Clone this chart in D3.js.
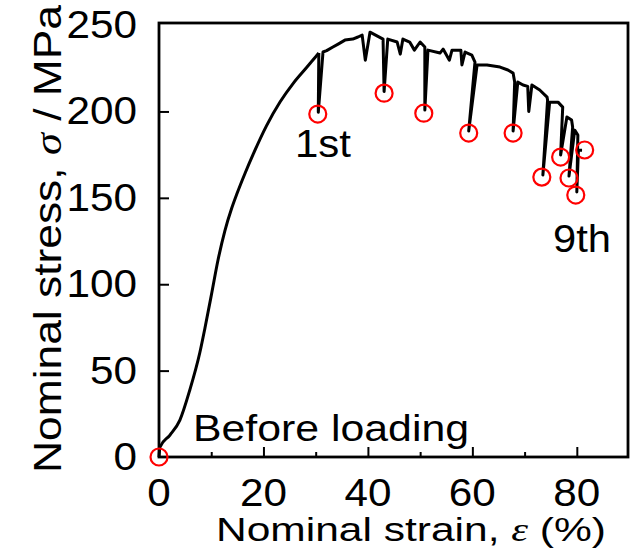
<!DOCTYPE html>
<html>
<head>
<meta charset="utf-8">
<script src="https://cdn.jsdelivr.net/npm/d3@7"></script>
<style>
  body { margin: 0; background: #fff; }
  text { font-family: "Liberation Sans", Arial, sans-serif; fill: #000; }
</style>
</head>
<body>
<svg id="my_chart" width="635" height="554"></svg>
<script>
// stress-strain curve
var strain = [0, 0.2, 2.1, 4.0, 5.9, 7.8, 8.8, 10.1, 11.3, 12.6, 13.9, 14.9, 16.5, 18.0, 20.6, 23.2, 25.7, 28.3, 30.2, 30.6,
  30.5, 31.4, 32.1, 33.3, 34.3, 35.6, 37.1, 38.1, 38.9, 39.5, 40.4, 42.9,
  43.1, 43.8, 45.6, 46.2, 46.7, 48.0, 48.9, 50.0, 50.9,
  50.9, 51.5, 53.8, 54.4, 55.6, 56.1, 57.8, 58.0, 58.6, 59.9, 60.5,
  59.3, 60.9, 62.8, 65.3, 66.8, 67.8, 68.1,
  67.8, 68.7, 69.7, 70.6, 70.8, 71.4, 72.9, 74.3, 74.4,
  73.5, 74.8, 76.4, 77.3,
  76.9, 78.1, 79.0, 79.2,
  78.5, 79.6, 80.2,
  80.0, 80.3, 81.0]
var stress = [0, 5.8, 12.7, 21.4, 38.8, 60.2, 74.7, 94.9, 114.0, 130.8, 143.8, 152.2, 164.4, 175.0, 191.8, 205.6, 216.3, 225.6, 232.4, 233.8,
  199.5, 234.4, 235.2, 237.3, 239.0, 241.3, 241.9, 243.1, 244.2, 229.7, 245.9, 241.9,
  211.5, 241.9, 240.2, 233.2, 241.9, 240.2, 235.5, 240.2, 237.3,
  200.8, 235.5, 233.8, 236.1, 229.7, 235.5, 235.5, 226.9, 234.4, 232.6, 228.6,
  188.7, 226.9, 226.9, 225.7, 224.0, 222.2, 217.0,
  188.7, 217.0, 215.3, 214.5, 200.0, 215.3, 212.4, 208.3, 206.6,
  163.2, 205.4, 205.4, 202.5,
  174.8, 196.8, 195.0, 191.0,
  162.6, 189.2, 186.3,
  153.4, 177.5, 177.5]
var nLoading = 20 // first points: smooth loading part before the 1st unloading

// red circles (before loading + unloading points)
var markStrain = [0, 30.4, 43.1, 50.7, 59.3, 67.8, 73.3, 76.9, 78.5, 79.8, 81.5]
var markStress = [0, 198.5, 210.6, 199.0, 187.5, 187.5, 162.0, 173.6, 161.5, 151.6, 177.7]

var xTicks = [0, 20, 40, 60, 80]
var xMinor = [10, 30, 50, 70]
var yTicks = [0, 50, 100, 150, 200, 250]

var svg = d3.select("#my_chart")
var mLeft = 159, mRight = 628, mTop = 23, mBottom = 457

var x = d3.scaleLinear().domain([0, 89.8]).range([mLeft, mRight])
var y = d3.scaleLinear().domain([0, 251.2]).range([mBottom, mTop])

// ticks inside the frame
svg.append("g")
  .attr("transform", "translate(0," + mBottom + ")")
  .call(d3.axisBottom(x).tickValues(xTicks.slice(1)).tickSizeInner(-10).tickSizeOuter(0).tickFormat(""))
  .call(function (g) { g.select(".domain").remove() })
  .selectAll("line").attr("stroke-width", 2)
svg.append("g")
  .attr("transform", "translate(0," + mBottom + ")")
  .call(d3.axisBottom(x).tickValues(xMinor).tickSizeInner(-5).tickSizeOuter(0).tickFormat(""))
  .call(function (g) { g.select(".domain").remove() })
  .selectAll("line").attr("stroke-width", 2)
svg.append("g")
  .attr("transform", "translate(" + mLeft + ",0)")
  .call(d3.axisLeft(y).tickValues(yTicks.slice(1, 5)).tickSizeInner(-10).tickSizeOuter(0).tickFormat(""))
  .call(function (g) { g.select(".domain").remove() })
  .selectAll("line").attr("stroke-width", 2)

// frame
svg.append("rect")
  .attr("x", mLeft).attr("y", mTop)
  .attr("width", mRight - mLeft).attr("height", mBottom - mTop)
  .attr("fill", "none").attr("stroke", "#000").attr("stroke-width", 2.8)

// tick labels (the original font is a bit wider than Arial)
svg.append("g").selectAll("text")
  .data(xTicks).enter().append("text")
  .attr("x", function (d) { return x(d) })
  .attr("y", 506)
  .attr("text-anchor", "middle")
  .attr("textLength", function (d) { return String(d).length * 23.5 })
  .attr("lengthAdjust", "spacingAndGlyphs")
  .style("font-size", "38px")
  .text(function (d) { return d })
svg.append("g").selectAll("text")
  .data(yTicks).enter().append("text")
  .attr("x", 137)
  .attr("y", function (d) { return y(d) + 13 })
  .attr("text-anchor", "end")
  .attr("textLength", function (d) { return String(d).length * 23.5 })
  .attr("lengthAdjust", "spacingAndGlyphs")
  .style("font-size", "38px")
  .text(function (d) { return d })

// the curve: smooth loading part, then the serrated part as straight segments
var pts = strain.map(function (d, i) { return [d, stress[i]] })
var smooth = d3.line().curve(d3.curveMonotoneX)
  .x(function (d) { return x(d[0]) }).y(function (d) { return y(d[1]) })
var sharp = d3.line()
  .x(function (d) { return x(d[0]) }).y(function (d) { return y(d[1]) })
svg.append("path")
  .attr("fill", "none").attr("stroke", "#000").attr("stroke-width", 3)
  .attr("d", smooth(pts.slice(0, nLoading)))
svg.append("path")
  .attr("fill", "none").attr("stroke", "#000").attr("stroke-width", 3)
  .attr("stroke-linejoin", "round")
  .attr("d", sharp(pts.slice(nLoading - 1)))

svg.append("g").selectAll("circle")
  .data(markStrain).enter().append("circle")
  .attr("cx", function (d) { return x(d) })
  .attr("cy", function (d, i) { return y(markStress[i]) })
  .attr("r", 8.5)
  .attr("fill", "none")
  .attr("stroke", "#ff0000")
  .attr("stroke-width", 2.2)

// annotations
function label(tx, ty, size, len, s) {
  return svg.append("text").attr("x", tx).attr("y", ty).style("font-size", size + "px")
    .attr("textLength", len).attr("lengthAdjust", "spacingAndGlyphs").text(s)
}
label(295, 157, 38, 56, "1st")
label(553, 252, 38, 58, "9th")
label(193, 441, 36, 276, "Before loading")

// axis titles
var xt = svg.append("text").attr("x", 216).attr("y", 541).style("font-size", "34px")
  .attr("textLength", 390).attr("lengthAdjust", "spacingAndGlyphs")
xt.append("tspan").text("Nominal strain, ")
xt.append("tspan").style("font-family", "'Liberation Serif', serif").style("font-style", "italic").text("\u03b5")
xt.append("tspan").text(" (%)")

var yt = svg.append("text").attr("transform", "translate(61,473) rotate(-90)").style("font-size", "38px")
  .attr("textLength", 468).attr("lengthAdjust", "spacingAndGlyphs")
yt.append("tspan").text("Nominal stress, ")
yt.append("tspan").style("font-family", "'Liberation Serif', serif").style("font-style", "italic").text("\u03c3")
yt.append("tspan").text(" / MPa")
</script>
</body>
</html>
